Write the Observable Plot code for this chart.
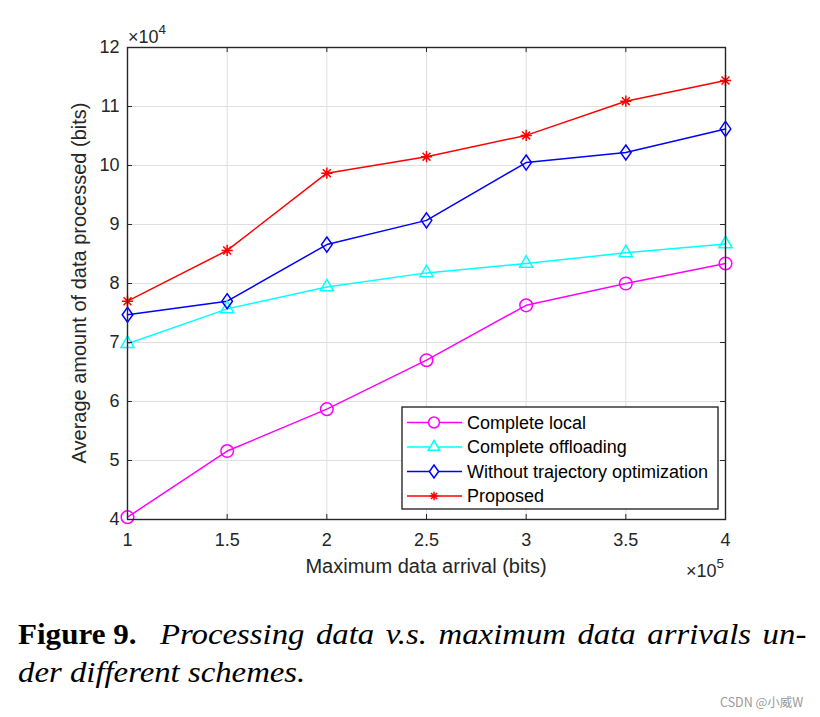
<!DOCTYPE html>
<html>
<head>
<meta charset="utf-8">
<script src="https://cdn.jsdelivr.net/npm/d3@7"></script>
<script src="https://cdn.jsdelivr.net/npm/@observablehq/plot@0.6"></script>
<style>
  body { margin: 0; background: white; width: 820px; height: 717px; position: relative; overflow: hidden; }
  #chart svg { display: block; }
  .cap { position: absolute; font-family: "Liberation Serif", "Times New Roman", serif; font-size: 28.5px; line-height: 38px; color: #000; white-space: nowrap; transform-origin: 0 0; }
  #capB { left: 18px; top: 616px; font-weight: bold; transform: scaleX(1.09); }
  #cap1 { left: 160px; top: 616px; font-style: italic; width: 562px; text-align: justify; text-align-last: justify; transform: scaleX(1.15); }
  #cap2 { left: 18px; top: 654px; font-style: italic; transform: scaleX(1.15); }
  #wm { position: absolute; left: 720px; top: 694px; font-family: "Noto Sans CJK SC", "Liberation Sans", sans-serif; font-size: 12.5px; line-height: 16px; color: #999; white-space: nowrap; }
</style>
</head>
<body>
<div id="chart"></div>
<div class="cap" id="capB">Figure 9.</div>
<div class="cap" id="cap1">Processing data v.s. maximum data arrivals un-</div>
<div class="cap" id="cap2">der different schemes.</div>
<div id="wm">CSDN @小威W</div>
<script>
// ---- data (x in units of 1e5 bits, y in units of 1e4 bits) ----
const xValues = [1, 1.5, 2, 2.5, 3, 3.5, 4];
const completeLocal = [4.04, 5.16, 5.87, 6.70, 7.63, 8.00, 8.34];
const completeOffloading = [6.98, 7.57, 7.94, 8.18, 8.34, 8.52, 8.67];
const withoutTrajectory = [7.47, 7.70, 8.66, 9.07, 10.05, 10.22, 10.62];
const proposed = [7.70, 8.56, 9.87, 10.15, 10.51, 11.09, 11.44];
const seriesNames = ["Complete local", "Complete offloading", "Without trajectory optimization", "Proposed"];
const seriesColors = ["#ff00ff", "#00ffff", "#0000ff", "#ff0000"];
const xTicks = [1, 1.5, 2, 2.5, 3, 3.5, 4];
const yTicks = [4, 5, 6, 7, 8, 9, 10, 11, 12];
const xLabel = "Maximum data arrival (bits)";
const yLabel = "Average amount of data processed (bits)";

const seriesValues = [completeLocal, completeOffloading, withoutTrajectory, proposed];
const data = seriesNames.flatMap((name, i) => xValues.map((x, j) => ({series: name, x, y: seriesValues[i][j]})));

// 8-spoke asterisk like MATLAB '*'
const asterisk8 = {
  draw(context, size) {
    const r = Math.sqrt(size / Math.PI);
    const d = r * Math.SQRT1_2;
    context.moveTo(-r, 0); context.lineTo(r, 0);
    context.moveTo(0, -r); context.lineTo(0, r);
    context.moveTo(-d, -d); context.lineTo(d, d);
    context.moveTo(-d, d); context.lineTo(d, -d);
  }
};
// MATLAB-like diamond (rhombus, slightly taller than wide)
const diamondM = {
  draw(context, size) {
    const r = Math.sqrt(size / Math.PI);
    const hh = r * 1.6, hw = r * 1.13;
    context.moveTo(0, -hh); context.lineTo(hw, 0); context.lineTo(0, hh); context.lineTo(-hw, 0); context.closePath();
  }
};
const symbols = ["circle", "triangle", diamondM, asterisk8];
const radii = [6.3, 4.9, 4.7, 5.6];

const W = 820, H = 600, mT = 47, mL = 127, mR = 95, mB = 81;
const innerW = W - mL - mR, innerH = H - mT - mB;
const axisColor = "#262626";
const lw = 1.5;
const font = "'Liberation Sans', Arial, sans-serif";

const chart = Plot.plot({
  width: W, height: H,
  marginTop: mT, marginLeft: mL, marginRight: mR, marginBottom: mB,
  style: {fontFamily: font, fontSize: "18px", color: axisColor, background: "white"},
  x: {domain: [1, 4]},
  y: {domain: [4, 12]},
  color: {domain: seriesNames, range: seriesColors},
  marks: [
    Plot.gridX(xTicks, {stroke: "#dfdfdf", strokeOpacity: 1, strokeWidth: 1}),
    Plot.gridY(yTicks, {stroke: "#dfdfdf", strokeOpacity: 1, strokeWidth: 1}),
    Plot.line(data, {x: "x", y: "y", z: "series", stroke: "series", strokeWidth: lw}),
    ...seriesNames.map((name, i) => Plot.dot(data.filter(d => d.series === name), {
      x: "x", y: "y", symbol: symbols[i], r: radii[i], stroke: seriesColors[i], fill: "none", strokeWidth: lw
    })),
    Plot.frame({stroke: axisColor, strokeWidth: 1.4}),
    Plot.tickX(xTicks, {x: d => d, insetTop: innerH - 5, stroke: axisColor, strokeWidth: 1}),
    Plot.tickX(xTicks, {x: d => d, insetBottom: innerH - 5, stroke: axisColor, strokeWidth: 1}),
    Plot.tickY(yTicks, {y: d => d, insetRight: innerW - 5, stroke: axisColor, strokeWidth: 1}),
    Plot.tickY(yTicks, {y: d => d, insetLeft: innerW - 5, stroke: axisColor, strokeWidth: 1}),
    Plot.axisX(xTicks, {tickSize: 0, tickPadding: 14, tickFormat: d => String(d), label: null, fill: axisColor, fontSize: 18}),
    Plot.axisY(yTicks, {tickSize: 0, tickPadding: 8, tickFormat: d => String(d), label: null, fill: axisColor, fontSize: 18})
  ]
});
document.getElementById("chart").appendChild(chart);

const svg = d3.select(chart);
svg.selectAll("g").filter(function() { return this.getAttribute("font-size"); }).attr("font-size", 18);
svg.selectAll("text").style("font-size", "18px").style("font-family", font);

const sx = chart.scale("x"), sy = chart.scale("y");

// axis labels
svg.append("text").attr("x", (sx.apply(1) + sx.apply(4)) / 2).attr("y", H - mB + 54)
  .attr("text-anchor", "middle").attr("font-family", font).attr("font-size", 20).attr("fill", axisColor).text(xLabel);
svg.append("text").attr("transform", `translate(${mL - 46},${(sy.apply(4) + sy.apply(12)) / 2}) rotate(-90)`)
  .attr("text-anchor", "middle").attr("dominant-baseline", "middle").attr("font-family", font).attr("font-size", 20).attr("fill", axisColor).text(yLabel);

// exponent labels
function expLabel(x, y, exp, anchor) {
  const t = svg.append("text").attr("x", x).attr("y", y).attr("text-anchor", anchor)
    .attr("font-family", font).attr("font-size", 18).attr("fill", axisColor);
  t.append("tspan").text("\u00d710");
  t.append("tspan").attr("dy", -9).attr("font-size", 13.5).text(exp);
}
expLabel(sx.apply(1) + 1, mT - 4, "4", "start");
expLabel(sx.apply(4) - 1, H - mB + 58, "5", "end");

// legend
const lg = svg.append("g");
const lx = 402, ly = 407, lwid = 316, lh = 102;
lg.append("rect").attr("x", lx).attr("y", ly).attr("width", lwid).attr("height", lh)
  .attr("fill", "white").attr("stroke", "#1a1a1a").attr("stroke-width", 1.3);
seriesNames.forEach((name, i) => {
  const cy = ly + 15.5 + i * 24.5;
  lg.append("line").attr("x1", lx + 5).attr("x2", lx + 60).attr("y1", cy).attr("y2", cy)
    .attr("stroke", seriesColors[i]).attr("stroke-width", lw);
  const sym = typeof symbols[i] === "string"
    ? {circle: d3.symbolCircle, triangle: d3.symbolTriangle}[symbols[i]]
    : symbols[i];
  const sz = Math.PI * radii[i] * radii[i] * (i === 3 ? 0.6 : 0.75);
  lg.append("path").attr("d", d3.symbol(sym, sz)()).attr("transform", `translate(${lx + 32},${cy})`)
    .attr("fill", "white").attr("stroke", seriesColors[i]).attr("stroke-width", lw);
  lg.append("text").attr("x", lx + 65).attr("y", cy).attr("dy", "0.36em").attr("text-anchor", "start")
    .attr("font-family", font).attr("font-size", 18).attr("fill", "#000").text(name);
});
</script>
</body>
</html>
